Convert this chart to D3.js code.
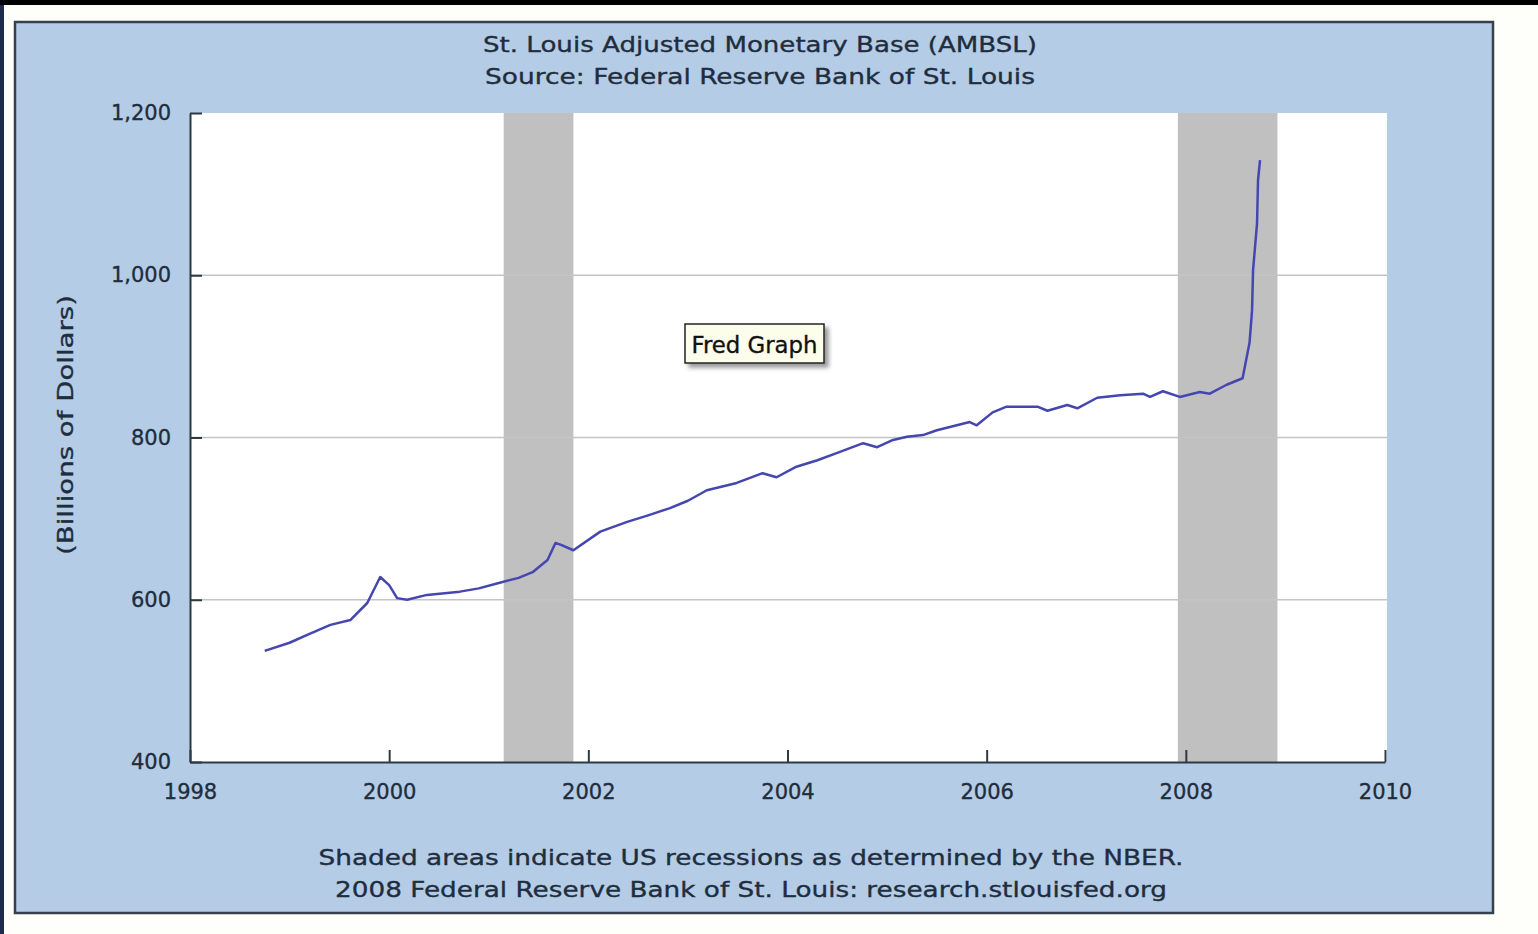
<!DOCTYPE html>
<head>
  <meta charset="utf-8">
  <script src="https://d3js.org/d3.v7.min.js"></script>
  <style>
    body { margin: 0; background: #fefefb; }
    svg { display: block; }
    text { font-family: "DejaVu Sans", Verdana, sans-serif; fill: #1f2d3d; stroke: #1f2d3d; stroke-width: 0.35; }
  </style>
</head>

<body>
  <svg width="1538" height="934"></svg>
  <script>
    // data (decimal year, billions of dollars)
    var years = [1998.75, 1999.00, 1999.20, 1999.41, 1999.61, 1999.78, 1999.91, 2000.00, 2000.08, 2000.18,
                 2000.38, 2000.71, 2000.90, 2001.11, 2001.30, 2001.44, 2001.59, 2001.67, 2001.72, 2001.85,
                 2002.12, 2002.39, 2002.60, 2002.82, 2003.00, 2003.19, 2003.49, 2003.75, 2003.89, 2004.09,
                 2004.30, 2004.50, 2004.76, 2004.90, 2005.06, 2005.20, 2005.36, 2005.50, 2005.70, 2005.83,
                 2005.90, 2006.06, 2006.20, 2006.51, 2006.61, 2006.81, 2006.91, 2007.11, 2007.34, 2007.57,
                 2007.64, 2007.77, 2007.94, 2008.14, 2008.24, 2008.41, 2008.57, 2008.64, 2008.665, 2008.675,
                 2008.715, 2008.725, 2008.745];
    var values = [537, 547, 558, 569, 575, 596, 628, 618, 602, 600,
                  606, 610, 614, 621, 627, 634, 649, 670, 668, 661,
                  684, 696, 704, 713, 722, 735, 744, 756, 751, 764,
                  772, 781, 793, 788, 797, 801, 803, 809, 815, 819,
                  815, 831, 838, 838, 833, 840, 836, 849, 852, 854,
                  850, 857, 850, 856, 854, 865, 873, 917, 957, 1006,
                  1064, 1117, 1142];

    var recStart = [2001.15, 2007.92];
    var recEnd = [2001.85, 2008.92];

    var xTicks = [1998, 2000, 2002, 2004, 2006, 2008, 2010];
    var yTicks = [400, 600, 800, 1000, 1200];

    var titleLines = ["St. Louis Adjusted Monetary Base (AMBSL)", "Source: Federal Reserve Bank of St. Louis"];
    var footLines = ["Shaded areas indicate US recessions as determined by the NBER.",
                     "2008 Federal Reserve Bank of St. Louis: research.stlouisfed.org"];

    // options
    var plot = {"left": 190, "right": 1385, "top": 113, "bottom": 762};

    var xScale = d3.scaleLinear()
      .domain([1998, 2010])
      .range([plot.left, plot.right]);
    var yScale = d3.scaleLinear()
      .domain([400, 1200])
      .range([plot.bottom, plot.top]);

    var svg = d3.select('svg');

    var defs = svg.append('defs');
    defs.append('filter').attr('id', 'shadow')
      .attr('x', '-20%').attr('y', '-20%').attr('width', '150%').attr('height', '170%')
      .append('feDropShadow')
      .attr('dx', 4).attr('dy', 4).attr('stdDeviation', 2)
      .attr('flood-color', '#555').attr('flood-opacity', 0.6);

    // screenshot edges
    svg.append('rect').attr('x', 0).attr('y', 0).attr('width', 1538).attr('height', 5).attr('fill', '#000');
    svg.append('rect').attr('x', 0).attr('y', 5).attr('width', 4).attr('height', 929).attr('fill', '#1d2b4c');

    // panel
    svg.append('rect')
      .attr('x', 15).attr('y', 22).attr('width', 1478).attr('height', 891)
      .attr('fill', '#b4cce6')
      .attr('stroke', '#37414b').attr('stroke-width', 2.5);

    svg.append('rect')
      .attr('x', plot.left).attr('y', plot.top)
      .attr('width', plot.right + 2 - plot.left).attr('height', plot.bottom - plot.top)
      .attr('fill', '#fff');

    // recessions
    svg.selectAll('.rec')
      .data(recStart)
      .enter().append('rect')
      .attr('class', 'rec')
      .attr('x', function(d){ return xScale(d); })
      .attr('y', plot.top)
      .attr('width', function(d, i){ return xScale(recEnd[i]) - xScale(d); })
      .attr('height', plot.bottom - plot.top)
      .attr('fill', '#c0c0c0');

    // grid
    svg.selectAll('.grid')
      .data(yTicks.slice(1, -1))
      .enter().append('line')
      .attr('class', 'grid')
      .attr('x1', plot.left).attr('x2', plot.right + 2)
      .attr('y1', function(d){ return yScale(d); })
      .attr('y2', function(d){ return yScale(d); })
      .attr('stroke', '#c4c4c4').attr('stroke-width', 1.5);

    // series
    var line = d3.line()
      .x(function(d, i){ return xScale(years[i]); })
      .y(function(d){ return yScale(d); });
    svg.append('path')
      .datum(values)
      .attr('d', line)
      .attr('fill', 'none')
      .attr('stroke', '#4646b0')
      .attr('stroke-width', 2.5)
      .attr('stroke-linejoin', 'round');

    // axes
    var xAxis = d3.axisBottom(xScale)
      .tickValues(xTicks)
      .tickFormat(d3.format('d'))
      .tickSizeInner(-12).tickSizeOuter(0).tickPadding(22);
    var yAxis = d3.axisLeft(yScale)
      .tickValues(yTicks)
      .tickFormat(d3.format(','))
      .tickSizeInner(-12).tickSizeOuter(0).tickPadding(19);

    var gx = svg.append('g')
      .attr('transform', 'translate(' + [0, plot.bottom] + ')')
      .call(xAxis);
    var gy = svg.append('g')
      .attr('transform', 'translate(' + [plot.left, 0] + ')')
      .call(yAxis);
    [gx, gy].forEach(function(g){
      g.selectAll('path, line').attr('stroke', '#2f3944').attr('stroke-width', 2);
      g.selectAll('text').attr('font-size', 21).attr('fill', '#1f2d3d')
        .style('font-family', '"DejaVu Sans", Verdana, sans-serif');
    });

    // titles
    svg.selectAll('.title')
      .data(titleLines)
      .enter().append('text')
      .attr('class', 'title')
      .attr('x', 760)
      .attr('y', function(d, i){ return 52 + i * 32; })
      .attr('text-anchor', 'middle')
      .attr('font-size', 22)
      .attr('textLength', function(d, i){ return i ? 550 : 554; })
      .attr('lengthAdjust', 'spacingAndGlyphs')
      .text(function(d){ return d; });

    svg.selectAll('.foot')
      .data(footLines)
      .enter().append('text')
      .attr('class', 'foot')
      .attr('x', 751)
      .attr('y', function(d, i){ return 865 + i * 32; })
      .attr('text-anchor', 'middle')
      .attr('font-size', 22)
      .attr('textLength', function(d, i){ return i ? 832 : 865; })
      .attr('lengthAdjust', 'spacingAndGlyphs')
      .text(function(d){ return d; });

    svg.append('text')
      .attr('transform', 'translate(73,425) rotate(-90)')
      .attr('text-anchor', 'middle')
      .attr('font-size', 21)
      .attr('textLength', 260)
      .attr('lengthAdjust', 'spacingAndGlyphs')
      .text('(Billions of Dollars)');

    // Fred Graph tag
    var tag = svg.append('g').attr('transform', 'translate(685,324)');
    tag.append('rect')
      .attr('width', 139).attr('height', 39)
      .attr('fill', '#fdfdec')
      .attr('stroke', '#222').attr('stroke-width', 1.5)
      .attr('filter', 'url(#shadow)');
    tag.append('text')
      .attr('x', 69.5).attr('y', 29)
      .attr('text-anchor', 'middle')
      .attr('font-size', 23)
      .attr('textLength', 126)
      .attr('lengthAdjust', 'spacingAndGlyphs')
      .style('fill', '#111').style('stroke', '#111')
      .text('Fred Graph');
  </script>
</body>
